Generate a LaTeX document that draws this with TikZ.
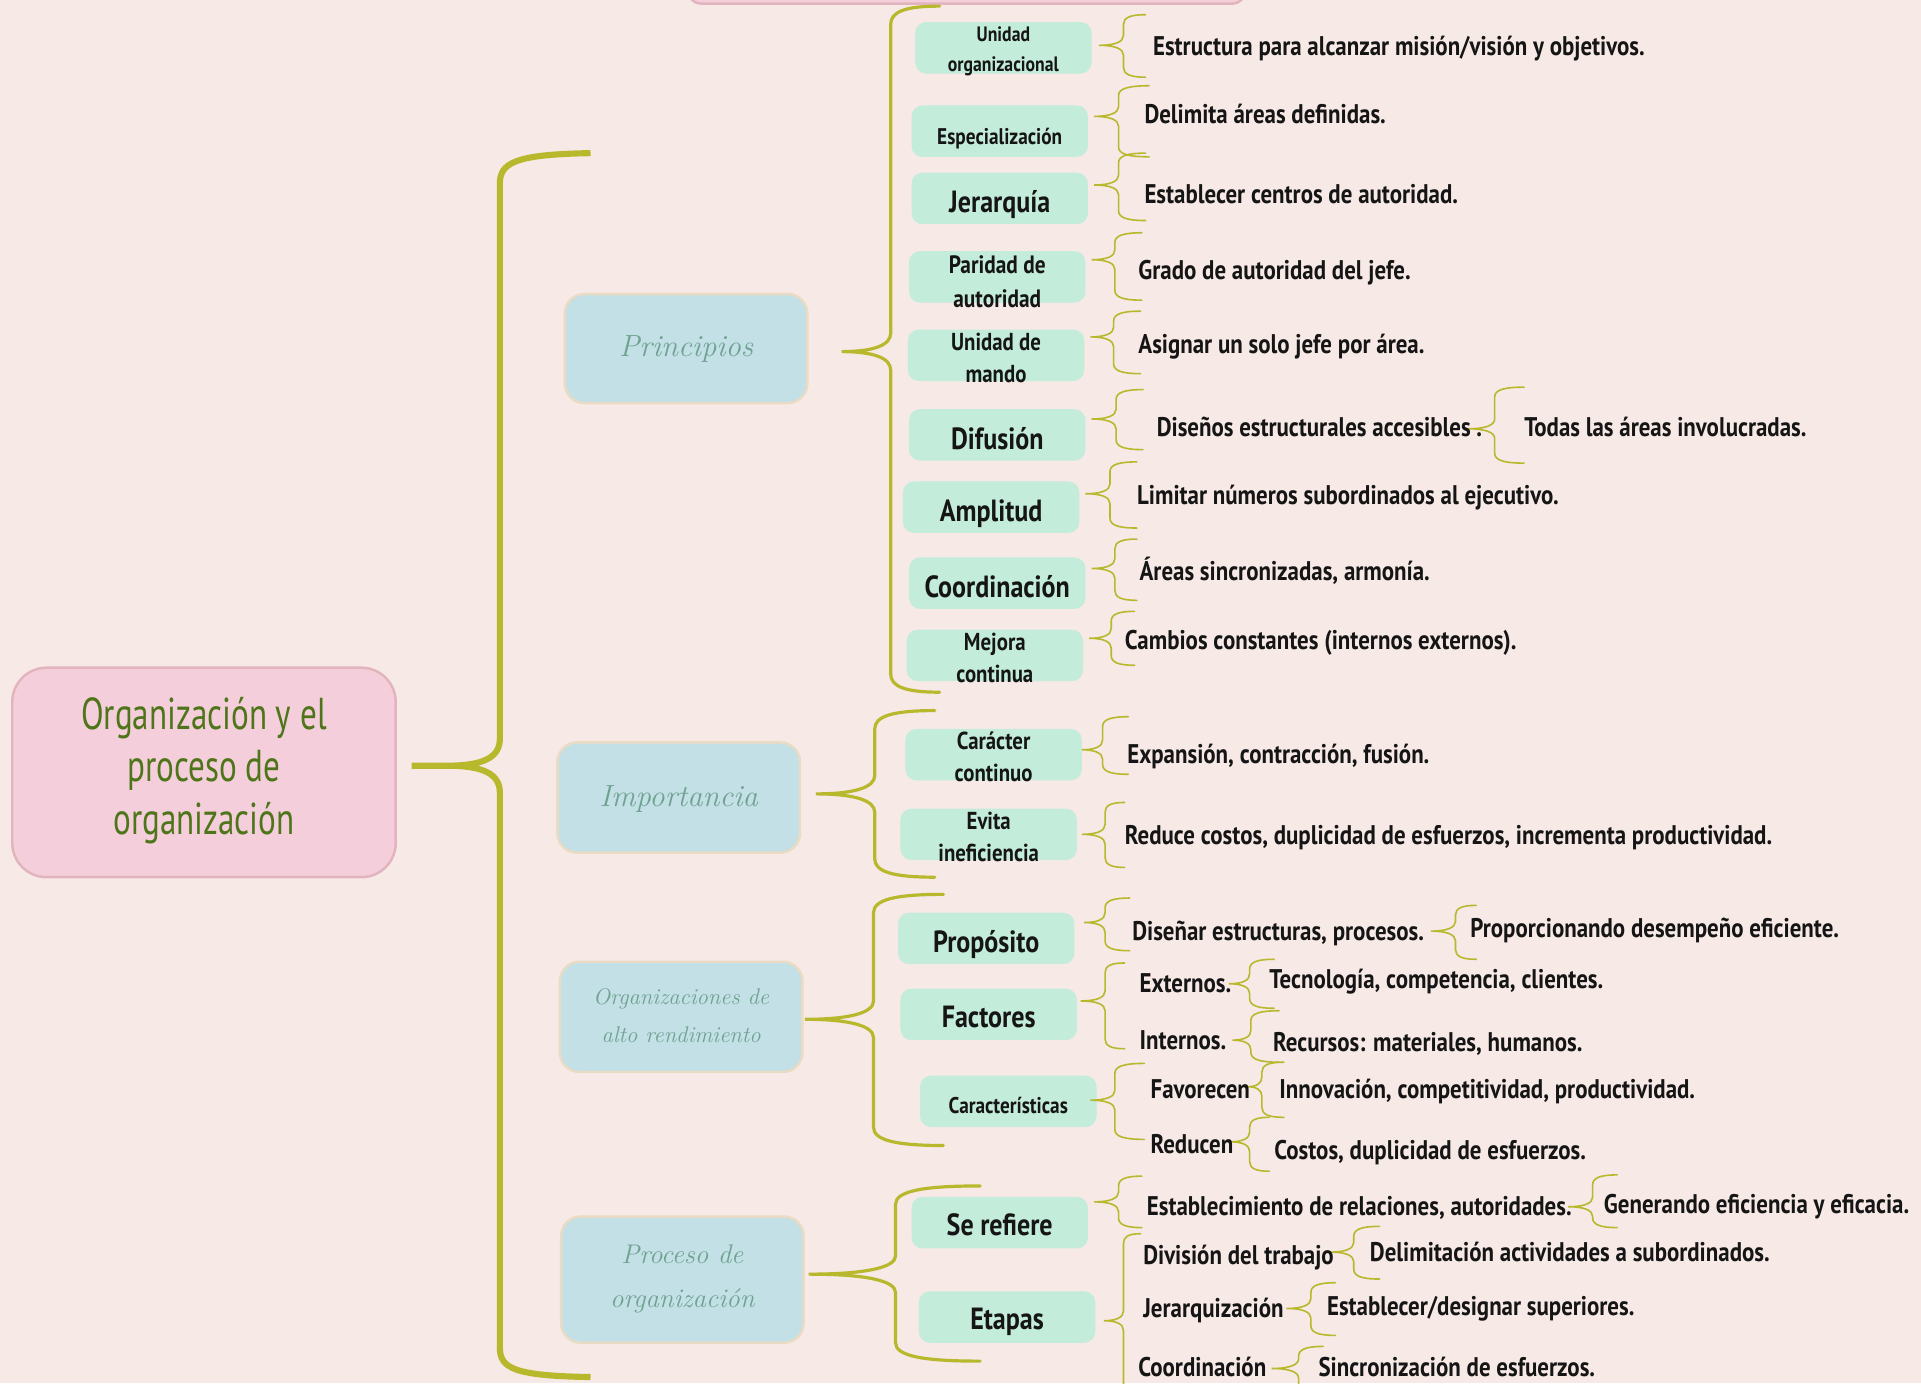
\documentclass[tikz,border=0pt]{standalone}
\usepackage{fontspec}
\newfontfamily\leaffont{PT Sans}[FakeStretch=0.85]
\newfontfamily\rootfnt{PT Sans}[FakeStretch=0.74]
\definecolor{bgc}{HTML}{F7E9E6}
\definecolor{rootfill}{HTML}{F4CEDA}
\definecolor{rootdraw}{HTML}{E2B4BD}
\definecolor{roottext}{HTML}{4E7519}
\definecolor{lonefill}{HTML}{C2E0E6}
\definecolor{lonedraw}{HTML}{EADBC5}
\definecolor{lonetext}{HTML}{70A290}
\definecolor{ltwofill}{HTML}{C3ECDA}
\definecolor{brcol}{HTML}{B7B82B}
\definecolor{leafcol}{HTML}{151515}
\tikzset{
  rootbox/.style={draw=rootdraw,line width=2pt,fill=rootfill,rounded corners=28pt,minimum width=313pt,minimum height=171pt,inner sep=0pt},
  roottxt/.style={text=roottext,align=center,inner sep=0pt,font={\fontsize{36.5}{43}\rootfnt}},
  lonebox/.style={draw=lonedraw,line width=2pt,fill=lonefill,rounded corners=16pt,minimum width=198pt,minimum height=89pt,inner sep=0pt},
  lonetxt/.style={text=lonetext,align=center,inner sep=0pt},
  ltwobox/.style={fill=ltwofill,rounded corners=9pt,minimum width=144pt,minimum height=42pt,inner sep=0pt},
  ltwotxt/.style={text=leafcol,align=center,inner sep=0pt},
  big/.style={font={\fontsize{25}{28}\leaffont\bfseries}},
  two/.style={font={\fontsize{20}{26}\leaffont\bfseries}},
  small/.style={font={\fontsize{18.5}{24}\leaffont\bfseries}},
  leaf/.style={anchor=west,inner sep=0pt,text=leafcol,font={\fontsize{22}{26}\leaffont\bfseries},text height=0.9em,text depth=0.2em,yshift=-4pt},
  brc/.style={draw=brcol,line width=1.3pt,line cap=round},
  midbrc/.style={draw=brcol,line width=2.6pt,line cap=round},
  bigbrc/.style={draw=brcol,line width=5pt},
}
% #1 style, #2 tipx, #3 tipy, #4 x, #5 ytop, #6 ybot, #7 xend, #8 radius
\newcommand\brc[8][brc]{%
  \draw[#1] (#7,#5) .. controls ({#4+0.3*(#7-#4)},#5) and (#4,{#5+0.3*#8}) .. (#4,{#5+#8})
    -- (#4,{#3-#8}) .. controls (#4,{#3-0.35*#8}) and ({#4-0.35*(#4-#2)},#3) .. (#2,#3)
    .. controls ({#4-0.35*(#4-#2)},#3) and (#4,{#3+0.35*#8}) .. (#4,{#3+#8})
    -- (#4,{#6-#8}) .. controls (#4,{#6-0.3*#8}) and ({#4+0.3*(#7-#4)},#6) .. (#7,#6);}
\begin{document}
\begin{tikzpicture}[x=1pt,y=-1pt]
\useasboundingbox (0,0) rectangle (1568,1129);
\fill[bgc] (0,0) rectangle (1568,1129);
% partial box at top
\draw[rootdraw,line width=2pt,fill=rootfill,rounded corners=10pt] (562,-40) rectangle (1016,3);

% root
\node[rootbox] (root) at (166.5,630.5) {};
\node[roottxt] (roott) at (166.5,629) {Organización y el\\proceso de\\organización};

% main brace
\draw[bigbrc] (482,125) .. controls (420,126) and (408,133) .. (408,150)
  -- (408,603) .. controls (408,618) and (395,625) .. (365,625) -- (336,625)
  -- (365,625) .. controls (395,625) and (408,632) .. (408,647)
  -- (408,1100) .. controls (408,1117) and (420,1123) .. (482,1124);

% level 1
\node[lonebox] (prin) at (560,284.5) {};
\node[lonetxt,font={\fontsize{25}{30}\selectfont\itshape}] (print) at (560,285) {Principios};
\node[lonebox,minimum height=90pt] (imp) at (554,651) {};
\node[lonetxt,font={\fontsize{25}{30}\selectfont\itshape}] (impt) at (554,652) {Importancia};
\node[lonebox,minimum height=90pt] (oar) at (556,830) {};
\node[lonetxt,font={\fontsize{18.5}{31}\selectfont\itshape}] (oart) at (556,829) {Organizaciones de\\alto rendimiento};
\node[lonebox,minimum height=103pt] (proc) at (557,1044.5) {};
\node[lonetxt,font={\fontsize{22}{36}\selectfont\itshape}] (proct) at (557,1044) {Proceso de\\organización};

% level 1 braces
\brc[midbrc]{687}{287}{727}{5}{565}{767}{15}
\brc[midbrc]{666}{648}{714}{580}{716}{763}{15}
\brc[midbrc]{657}{832}{713}{730}{935}{770}{15}
\brc[midbrc]{660}{1040}{731}{968}{1111}{800}{15}

% level 2 : Principios
\node[ltwobox] (p1) at (819,39) {};
\node[ltwotxt,font={\fontsize{17}{24}\leaffont\bfseries}] (p1t) at (819,42) {Unidad\\organizacional};
\node[ltwobox] (p2) at (816,107) {};
\node[ltwotxt,small] (p2t) at (816,113) {Especialización};
\node[ltwobox] (p3) at (816,162) {};
\node[ltwotxt,big] (p3t) at (816,167) {Jerarquía};
\node[ltwobox] (p4) at (814,226) {};
\node[ltwotxt,font={\fontsize{20.5}{28}\leaffont\bfseries}] (p4t) at (814,230) {Paridad de\\autoridad};
\node[ltwobox] (p5) at (813,290) {};
\node[ltwotxt,two] (p5t) at (813,292) {Unidad de\\mando};
\node[ltwobox] (p6) at (814,355) {};
\node[ltwotxt,big] (p6t) at (814,358) {Difusión};
\node[ltwobox] (p7) at (809,414) {};
\node[ltwotxt,big] (p7t) at (809,419) {Amplitud};
\node[ltwobox] (p8) at (814,476) {};
\node[ltwotxt,big] (p8t) at (814,479) {Coordinación};
\node[ltwobox] (p9) at (812,535) {};
\node[ltwotxt,two] (p9t) at (812,537) {Mejora\\continua};
% Importancia
\node[ltwobox] (i1) at (811,616) {};
\node[ltwotxt,two] (i1t) at (811,618) {Carácter\\continuo};
\node[ltwobox] (i2) at (807,681) {};
\node[ltwotxt,two] (i2t) at (807,683) {Evita\\ineficiencia};
% Org alto rendimiento
\node[ltwobox] (o1) at (805,766) {};
\node[ltwotxt,big] (o1t) at (805,771) {Propósito};
\node[ltwobox] (o2) at (807,828) {};
\node[ltwotxt,big] (o2t) at (807,830) {Factores};
\node[ltwobox] (o3) at (823,899) {};
\node[ltwotxt,small] (o3t) at (823,902) {Características};
% Proceso
\node[ltwobox] (r1) at (816,998) {};
\node[ltwotxt,big] (r1t) at (816,1000) {Se refiere};
\node[ltwobox] (r2) at (822,1075) {};
\node[ltwotxt,big] (r2t) at (822,1079) {Etapas};

% leaf braces
\brc{897}{37}{917}{12}{63}{935}{8}
\brc{893}{95}{913}{70}{128}{938}{8}
\brc{893}{151}{913}{125}{180}{935}{8}
\brc{891}{212}{910}{190}{245}{932}{8}
\brc{890}{275}{909}{254}{305}{931}{8}
\brc{891}{342}{911}{318}{367}{933}{8}
\brc{1198}{350}{1220}{316}{378}{1244}{8}
\brc{886}{403}{906}{377}{431}{928}{8}
\brc{891}{464}{910}{440}{490}{928}{8}
\brc{889}{521}{907}{499}{543}{926}{8}
\brc{883}{612}{900}{585}{632}{921}{8}
\brc{883}{681}{902}{655}{708}{918}{8}
\brc{885}{753}{902}{733}{776}{922}{8}
\brc{1168}{760}{1188}{739}{783}{1205}{8}
\brc{882}{817}{902}{786}{856}{918}{8}
\brc{1003}{803}{1020}{783}{823}{1040}{8}
\brc{1006}{849}{1021}{825}{867}{1044}{8}
\brc{890}{898}{910}{868}{930}{934}{8}
\brc{1018}{887}{1030}{867}{912}{1048}{8}
\brc{1004}{932}{1020}{912}{956}{1036}{8}
\brc{893}{981}{913}{960}{1002}{932}{8}
\brc{1280}{985}{1300}{959}{1002}{1320}{8}
\brc{901}{1078}{917}{1007}{1150}{931}{8}
\brc{1086}{1022}{1105}{1001}{1044}{1126}{8}
\brc{1050}{1068}{1070}{1047}{1090}{1090}{8}
\brc{1038}{1117}{1060}{1099}{1140}{1080}{8}

% leaf texts
\node[leaf] (t1) at (941,38) {Estructura para alcanzar misión/visión y objetivos.};
\node[leaf] (t2) at (934,93) {Delimita áreas definidas.};
\node[leaf] (t3) at (934,159) {Establecer centros de autoridad.};
\node[leaf] (t4) at (929,221) {Grado de autoridad del jefe.};
\node[leaf] (t5) at (929,281) {Asignar un solo jefe por área.};
\node[leaf] (t6) at (944,349) {Diseños estructurales accesibles .};
\node[leaf] (t6b) at (1244,349) {Todas las áreas involucradas.};
\node[leaf] (t7) at (928,404) {Limitar números subordinados al ejecutivo.};
\node[leaf] (t8) at (930,466) {Áreas sincronizadas, armonía.};
\node[leaf] (t9) at (918,523) {Cambios constantes (internos externos).};
\node[leaf] (u1) at (920,616) {Expansión, contracción, fusión.};
\node[leaf] (u2) at (918,682) {Reduce costos, duplicidad de esfuerzos, incrementa productividad.};
\node[leaf] (v1) at (924,760) {Diseñar estructuras, procesos.};
\node[leaf] (v1b) at (1200,758) {Proporcionando desempeño eficiente.};
\node[leaf] (v2a) at (930,803) {Externos.};
\node[leaf] (v2b) at (930,849) {Internos.};
\node[leaf] (v2a1) at (1036,799) {Tecnología, competencia, clientes.};
\node[leaf] (v2b1) at (1039,851) {Recursos: materiales, humanos.};
\node[leaf] (v3a) at (939,889) {Favorecen};
\node[leaf] (v3b) at (939,934) {Reducen};
\node[leaf] (v3a1) at (1044,889) {Innovación, competitividad, productividad.};
\node[leaf] (v3b1) at (1040,939) {Costos, duplicidad de esfuerzos.};
\node[leaf] (w1) at (936,985) {Establecimiento de relaciones, autoridades.};
\node[leaf] (w1b) at (1309,983) {Generando eficiencia y eficacia.};
\node[leaf] (w2a) at (933,1025) {División del trabajo};
\node[leaf] (w2b) at (933,1068) {Jerarquización};
\node[leaf] (w2c) at (929,1116) {Coordinación};
\node[leaf] (w2a1) at (1118,1022) {Delimitación actividades a subordinados.};
\node[leaf] (w2b1) at (1083,1066) {Establecer/designar superiores.};
\node[leaf] (w2c1) at (1076,1116) {Sincronización de esfuerzos.};
\end{tikzpicture}
\end{document}
